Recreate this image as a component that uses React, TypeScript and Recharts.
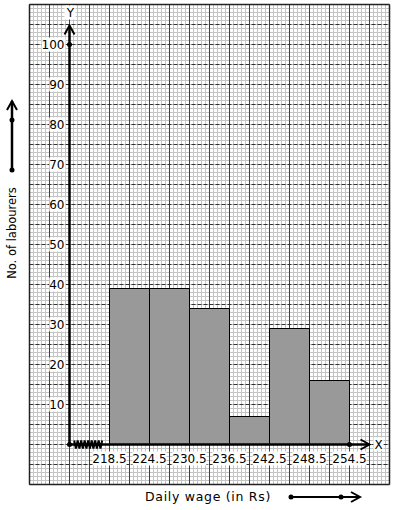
import React from "react";
import {
  ComposedChart,
  Bar,
  XAxis,
  YAxis,
  CartesianGrid,
  ReferenceLine,
  ReferenceDot,
} from "recharts";

// histogram: daily wage classes (mid points) and number of labourers
const wageMids = [221.5, 227.5, 233.5, 239.5, 245.5, 251.5];
const labourers = [39, 39, 34, 7, 29, 16];
const wageTicks = [218.5, 224.5, 230.5, 236.5, 242.5, 248.5, 254.5];
const countTicks = [10, 20, 30, 40, 50, 60, 70, 80, 90, 100];

const data = wageMids.map((mid, i) => ({ mid, labourers: labourers[i] }));

// graph paper extent
const X_MIN = 206.5;
const X_MAX = 260.5;
const Y_MIN = -10;
const Y_MAX = 110;
const ORIGIN = 212.5;

const range = (from: number, to: number, step: number) => {
  const out: number[] = [];
  const n = Math.round((to - from) / step);
  for (let i = 0; i <= n; i++) out.push(+(from + i * step).toFixed(3));
  return out;
};

const minorX = range(X_MIN, X_MAX, 0.6);
const majorX = range(X_MIN, X_MAX, 3);
const minorY = range(Y_MIN, Y_MAX, 1);
const majorY = range(Y_MIN, Y_MAX, 5);

const FONT = "'DejaVu Sans', Verdana, sans-serif";

const vGen = (values: number[]) => (p: any) =>
  values.map((v) =>
    p.xAxis && typeof p.xAxis.scale === "function"
      ? p.xAxis.scale(v)
      : p.offset.left + ((v - X_MIN) / (X_MAX - X_MIN)) * p.offset.width
  );

const hGen = (values: number[]) => (p: any) =>
  values.map((v) =>
    p.yAxis && typeof p.yAxis.scale === "function"
      ? p.yAxis.scale(v)
      : p.offset.top + ((Y_MAX - v) / (Y_MAX - Y_MIN)) * p.offset.height
  );

const XAxisArrow = (p: any) => (
  <g>
    <line x1={p.x1} y1={p.y1} x2={p.x2} y2={p.y2} stroke="#000" strokeWidth={2.5} />
    <polyline
      points={`${p.x2 - 9},${p.y2 - 5} ${p.x2},${p.y2} ${p.x2 - 9},${p.y2 + 5}`}
      fill="none"
      stroke="#000"
      strokeWidth={2}
    />
    <rect x={p.x2 + 4} y={p.y2 - 7} width={10} height={13} fill="#fff" />
    <text x={p.x2 + 9} y={p.y2 + 4} textAnchor="middle" fontSize={12} fontFamily={FONT}>
      X
    </text>
  </g>
);

const YAxisArrow = (p: any) => (
  <g>
    <line x1={p.x1} y1={p.y1} x2={p.x2} y2={p.y2} stroke="#000" strokeWidth={2.5} />
    <polyline
      points={`${p.x2 - 5},${p.y2 + 9} ${p.x2},${p.y2} ${p.x2 + 5},${p.y2 + 9}`}
      fill="none"
      stroke="#000"
      strokeWidth={2}
    />
    <rect x={p.x2 - 5} y={p.y2 - 20} width={11} height={14} fill="#fff" />
    <text x={p.x2 + 1} y={p.y2 - 9} textAnchor="middle" fontSize={12} fontFamily={FONT}>
      Y
    </text>
  </g>
);

const Kink = (p: any) => {
  const teeth = 16;
  const step = (p.x2 - p.x1) / teeth;
  const pts: string[] = [];
  for (let i = 0; i <= teeth; i++) {
    pts.push(`${p.x1 + i * step},${p.y1 + (i % 2 === 0 ? -4 : 4)}`);
  }
  return <polyline points={pts.join(" ")} fill="none" stroke="#000" strokeWidth={2} />;
};

const XTickLabel = (text: string) => (p: any) => (
  <g>
    <rect x={p.cx - 17} y={p.cy + 7} width={34} height={14} fill="#fff" />
    <text x={p.cx} y={p.cy + 18} textAnchor="middle" fontSize={12} fontFamily={FONT}>
      {text}
    </text>
  </g>
);

const YTickLabel = (text: string) => (p: any) => (
  <g>
    <rect x={p.cx - 5 - text.length * 7.6} y={p.cy - 7} width={text.length * 7.6 + 1} height={14} fill="#fff" />
    <text x={p.cx - 5} y={p.cy + 4.5} textAnchor="end" fontSize={12} fontFamily={FONT}>
      {text}
    </text>
  </g>
);

const Outside = () => (
  <svg
    width={394}
    height={510}
    style={{ position: "absolute", left: 0, top: 0, pointerEvents: "none" }}
  >
    {/* y-axis caption with arrow */}
    <line x1={12} y1={170} x2={12} y2={101} stroke="#000" strokeWidth={2.5} />
    <polyline points="7,110 12,101 17,110" fill="none" stroke="#000" strokeWidth={2} />
    <circle cx={12} cy={120} r={2.5} fill="#000" />
    <circle cx={12} cy={170} r={2.5} fill="#000" />
    <text
      x={16}
      y={233}
      transform="rotate(-90 16 233)"
      textAnchor="middle"
      fontSize={11.5}
      fontFamily={FONT}
    >
      No. of labourers
    </text>
    {/* x-axis caption with arrow */}
    <text x={208} y={501} textAnchor="middle" fontSize={12.5} letterSpacing={0.7} fontFamily={FONT}>
      Daily wage (in Rs)
    </text>
    <line x1={291} y1={497} x2={360} y2={497} stroke="#000" strokeWidth={2} />
    <polyline points="351,492 360,497 351,502" fill="none" stroke="#000" strokeWidth={2} />
    <circle cx={291} cy={497} r={2.5} fill="#000" />
    <circle cx={341} cy={497} r={2.5} fill="#000" />
  </svg>
);

export default function App() {
  return (
    <div style={{ position: "absolute", left: 0, top: 0, width: 394, height: 510, background: "#fff" }}>
      <ComposedChart
        width={394}
        height={510}
        data={data}
        margin={{ top: 4.5, right: 4.5, bottom: 25.5, left: 29.5 }}
        barCategoryGap={0}
        barGap={0}
      >
        <XAxis
          dataKey="mid"
          type="number"
          domain={[X_MIN, X_MAX]}
          allowDataOverflow
          hide
        />
        <YAxis type="number" domain={[Y_MIN, Y_MAX]} allowDataOverflow hide />
        <CartesianGrid
          stroke="#c4c4c4"
          strokeWidth={1}
          verticalCoordinatesGenerator={vGen(minorX)}
          horizontalCoordinatesGenerator={hGen(minorY)}
        />
        <CartesianGrid
          stroke="#404040"
          strokeWidth={1}
          horizontal={false}
          verticalCoordinatesGenerator={vGen(majorX)}
        />
        <CartesianGrid
          stroke="#333"
          strokeWidth={1}
          strokeDasharray="4 2"
          vertical={false}
          horizontalCoordinatesGenerator={hGen(majorY)}
        />
        <Bar
          dataKey="labourers"
          fill="#999999"
          stroke="#000"
          strokeWidth={1}
          isAnimationActive={false}
        />
        <ReferenceLine
          segment={[
            { x: X_MIN, y: Y_MIN },
            { x: X_MIN, y: Y_MAX },
          ]}
          stroke="#222"
          strokeWidth={1.5}
        />
        <ReferenceLine
          segment={[
            { x: X_MIN, y: Y_MAX },
            { x: X_MAX, y: Y_MAX },
          ]}
          stroke="#222"
          strokeWidth={1.5}
        />
        <ReferenceLine
          segment={[
            { x: X_MAX, y: Y_MIN },
            { x: X_MAX, y: Y_MAX },
          ]}
          stroke="#222"
          strokeWidth={1.5}
        />
        <ReferenceLine
          segment={[
            { x: X_MIN, y: Y_MIN },
            { x: X_MAX, y: Y_MIN },
          ]}
          stroke="#222"
          strokeWidth={1.5}
        />
        <ReferenceLine
          segment={[
            { x: ORIGIN, y: 0 },
            { x: 257.5, y: 0 },
          ]}
          shape={XAxisArrow}
        />
        <ReferenceLine
          segment={[
            { x: ORIGIN, y: 0 },
            { x: ORIGIN, y: 104.75 },
          ]}
          shape={YAxisArrow}
        />
        <ReferenceLine
          segment={[
            { x: 213.2, y: 0 },
            { x: 217.4, y: 0 },
          ]}
          shape={Kink}
        />
        {wageTicks.map((t) => (
          <ReferenceDot key={`xt-${t}`} x={t} y={0} r={0} shape={XTickLabel(t.toFixed(1))} />
        ))}
        {countTicks.map((t) => (
          <ReferenceDot key={`yt-${t}`} x={ORIGIN} y={t} r={0} shape={YTickLabel(String(t))} />
        ))}
        <ReferenceDot x={ORIGIN} y={0} r={2.5} fill="#000" stroke="none" />
        <ReferenceDot x={ORIGIN} y={100} r={2.5} fill="#000" stroke="none" />
        <ReferenceDot x={254.5} y={0} r={2.5} fill="#000" stroke="none" />
      </ComposedChart>
      <Outside />
    </div>
  );
}
